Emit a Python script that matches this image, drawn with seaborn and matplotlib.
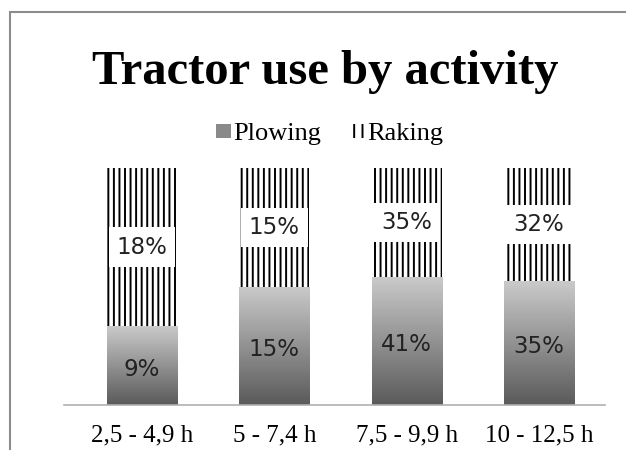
import matplotlib
matplotlib.use("Agg")
import matplotlib.pyplot as plt
import numpy as np
import pandas as pd
import seaborn as sns
from matplotlib.colors import LinearSegmentedColormap
from matplotlib.patches import Patch, Rectangle

# Data
categories = ["2,5 - 4,9 h", "5 - 7,4 h", "7,5 - 9,9 h", "10 - 12,5 h"]
plowing = [9, 15, 41, 35]
raking = [18, 15, 35, 32]

df = pd.DataFrame({"Range": categories, "Plowing": plowing, "Raking": raking})
df["Total"] = df["Plowing"] + df["Raking"]
df["PlowShare"] = df["Plowing"] / df["Total"]
df["Full"] = 1.0

sns.set_theme(style="white")
plt.rcParams["hatch.linewidth"] = 1.4
plt.rcParams["hatch.color"] = "black"
plt.rcParams["text.color"] = "black"

fig = plt.figure(figsize=(6.26, 4.5), dpi=100)
ax = fig.add_axes([64 / 626, 0.1, 541 / 626, 237 / 450])

# Raking = full 100% bar (hatched), plowing drawn over it
sns.barplot(data=df, x="Range", y="Full", color="white", width=0.53,
            edgecolor="none", saturation=1, ax=ax)
for p in ax.patches:
    p.set_hatch("|||")
    p.set_edgecolor("black")
    p.set_linewidth(0)
n_raking = len(ax.patches)

sns.barplot(data=df, x="Range", y="PlowShare", color="#909090", width=0.53,
            edgecolor="none", saturation=1, ax=ax)
plow_patches = ax.patches[n_raking:]

# Gradient fill for plowing
cmap = LinearSegmentedColormap.from_list("plow", ["#5a5a5a", "#cacaca"])
grad = np.linspace(0, 1, 256).reshape(-1, 1)
for p in plow_patches:
    x0, y0 = p.get_x(), p.get_y()
    w, h = p.get_width(), p.get_height()
    im = ax.imshow(grad, extent=[x0, x0 + w, y0, y0 + h], origin="lower",
                   cmap=cmap, aspect="auto", zorder=p.get_zorder() + 0.1)
    im.set_clip_path(p)

ax.set_xlim(-0.59, 3.5)
ax.set_ylim(0, 1)

# Data labels
for i, row in df.iterrows():
    ps = row["PlowShare"]
    ax.text(i, ps / 2 - 0.015, f"{row['Plowing']}%", ha="center", va="center",
            fontsize=16.5, color="#222222", family="DejaVu Sans", zorder=5)
    ax.text(i, ps + (1 - ps) / 2, f"{row['Raking']}%", ha="center", va="center",
            fontsize=16.5, color="#222222", family="DejaVu Sans", zorder=5,
            bbox=dict(boxstyle="square,pad=0.35", fc="white", ec="none"))

for s in ["left", "right", "top"]:
    ax.spines[s].set_visible(False)
ax.spines["bottom"].set_color("#b0b0b0")
ax.spines["bottom"].set_linewidth(1.2)
ax.set_yticks([])
ax.set_xlabel("")
ax.set_ylabel("")
ax.tick_params(axis="x", length=0, pad=14)
for lbl in ax.get_xticklabels():
    lbl.set_fontfamily("Liberation Serif")
    lbl.set_fontsize(18)
    lbl.set_color("black")

fig.text(0.52, 0.84, "Tractor use by activity", ha="center", va="center",
         fontsize=35, fontweight="bold", family="Liberation Serif",
         color="black")

handles = [Patch(facecolor="#8a8a8a", edgecolor="none", label="Plowing"),
           Patch(facecolor="white", edgecolor="black", hatch="||", linewidth=0,
                 label="Raking")]
fig.legend(handles=handles, loc="center", bbox_to_anchor=(0.527, 0.702),
           ncol=2, frameon=False, handlelength=0.55, handleheight=0.45,
           handletextpad=0.1, columnspacing=1.1,
           prop={"family": "Liberation Serif", "size": 19})

# Outer chart border (cropped on right and bottom)
fig.patches.append(Rectangle((10 / 626, -0.1), 1.2, 1 - 12 / 450 + 0.1,
                             transform=fig.transFigure, fill=False,
                             edgecolor="#8c8c8c", linewidth=1.5))

fig.savefig("out.png", dpi=100)
